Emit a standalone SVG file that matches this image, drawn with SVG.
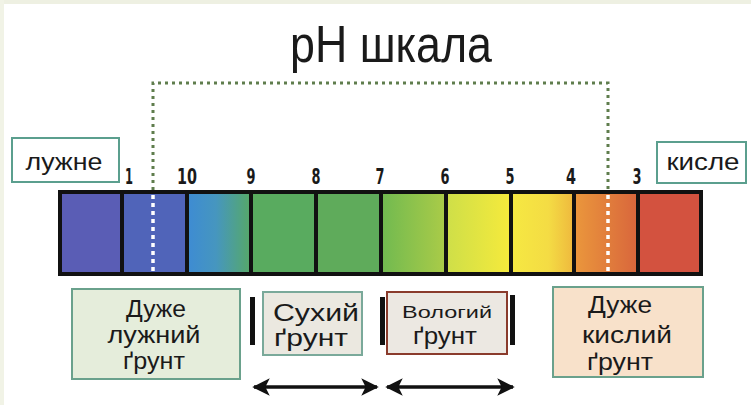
<svg xmlns="http://www.w3.org/2000/svg" width="751" height="405" viewBox="0 0 751 405">
  <defs>
    <linearGradient id="g3" x1="0" x2="1" y1="0" y2="0">
      <stop offset="0" stop-color="#3e8cd2"/>
      <stop offset="0.45" stop-color="#4696bf"/>
      <stop offset="1" stop-color="#55a86c"/>
    </linearGradient>
    <linearGradient id="g6" x1="0" x2="1" y1="0" y2="0">
      <stop offset="0" stop-color="#72ba50"/>
      <stop offset="1" stop-color="#a9cb48"/>
    </linearGradient>
    <linearGradient id="g7" x1="0" x2="1" y1="0" y2="0">
      <stop offset="0" stop-color="#cfdf48"/>
      <stop offset="1" stop-color="#f5ea3c"/>
    </linearGradient>
    <linearGradient id="g8" x1="0" x2="1" y1="0" y2="0">
      <stop offset="0" stop-color="#f6e842"/>
      <stop offset="0.6" stop-color="#f4dc44"/>
      <stop offset="1" stop-color="#efbb3e"/>
    </linearGradient>
    <linearGradient id="g9" x1="0" x2="1" y1="0" y2="0">
      <stop offset="0" stop-color="#ea963c"/>
      <stop offset="1" stop-color="#d9673c"/>
    </linearGradient>
    <marker id="ah" viewBox="0 0 10 10" refX="9" refY="5" markerWidth="5" markerHeight="5" orient="auto-start-reverse" markerUnits="strokeWidth">
      <path d="M0,0 L10,5 L0,10 L2.5,5 Z" fill="#111"/>
    </marker>
    <style>
      .title { font-family: "Liberation Sans", Arial, sans-serif; font-size: 52px; fill: #1a1a1a; }
      .num { font-family: "Liberation Sans Narrow", "DejaVu Sans Condensed", "Liberation Sans", sans-serif; font-weight: bold; font-size: 22px; fill: #1a1a1a; text-anchor: middle; }
      .lbl { font-family: "Liberation Sans", Arial, sans-serif; font-size: 24px; fill: #1a1a1a; text-anchor: middle; }
      .small { font-size: 17px; }
      .tag { fill: #ffffff; stroke: #5b9f8e; stroke-width: 2; }
      .dots { fill: none; stroke: #5f7d4d; stroke-width: 3; stroke-dasharray: 3 4; }
      .wdots { fill: none; stroke: #ffffff; stroke-width: 3.5; stroke-dasharray: 4 4; }
      .bar { fill: #111; }
      .conn { stroke: #111; stroke-width: 3.5; fill: none; }
    </style>
  </defs>

  <!-- page background with a faint frame on the top and left -->
  <rect x="0" y="0" width="751" height="405" fill="#ffffff"/>
  <rect x="0" y="0" width="751" height="4" fill="#eef0e2"/>
  <rect x="0" y="0" width="4" height="405" fill="#f1f3e6"/>

  <text class="title" x="391" y="62" text-anchor="middle" textLength="202" lengthAdjust="spacingAndGlyphs">pH шкала</text>

  <!-- dotted bracket over the scale -->
  <path class="dots" d="M153,190 V83 H608 V190"/>

  <!-- colour scale -->
  <g id="scale">
    <rect x="58" y="190" width="645" height="86" fill="#111"/>
    <rect x="62" y="194" width="58" height="78" fill="#5a5db5"/>
    <rect x="124" y="194" width="61" height="78" fill="#5064b9"/>
    <rect x="189" y="194" width="60" height="78" fill="url(#g3)"/>
    <rect x="253" y="194" width="61" height="78" fill="#59ab5f"/>
    <rect x="318" y="194" width="61" height="78" fill="#5fab5b"/>
    <rect x="383" y="194" width="61" height="78" fill="url(#g6)"/>
    <rect x="448" y="194" width="61" height="78" fill="url(#g7)"/>
    <rect x="513" y="194" width="59" height="78" fill="url(#g8)"/>
    <rect x="576" y="194" width="60" height="78" fill="url(#g9)"/>
    <rect x="640" y="194" width="59" height="78" fill="#d3523f"/>
    <path class="wdots" d="M153,195 V272 M608,195 V272"/>
  </g>

  <!-- scale values -->
  <g id="values">
    <text class="num" x="129" y="184" textLength="8" lengthAdjust="spacingAndGlyphs">1</text>
    <text class="num" x="187" y="184" textLength="20" lengthAdjust="spacingAndGlyphs">10</text>
    <text class="num" x="251" y="184" textLength="9" lengthAdjust="spacingAndGlyphs">9</text>
    <text class="num" x="316" y="184" textLength="9" lengthAdjust="spacingAndGlyphs">8</text>
    <text class="num" x="380" y="184" textLength="9" lengthAdjust="spacingAndGlyphs">7</text>
    <text class="num" x="445" y="184" textLength="9" lengthAdjust="spacingAndGlyphs">6</text>
    <text class="num" x="510" y="184" textLength="9" lengthAdjust="spacingAndGlyphs">5</text>
    <text class="num" x="571" y="184" textLength="10" lengthAdjust="spacingAndGlyphs">4</text>
    <text class="num" x="637" y="184" textLength="9" lengthAdjust="spacingAndGlyphs">3</text>
  </g>

  <g id="alkaline">
    <rect class="tag" x="12" y="138" width="107" height="44"/>
    <text class="lbl" x="64" y="170" textLength="77" lengthAdjust="spacingAndGlyphs">лужне</text>
  </g>

  <g id="acidic">
    <rect class="tag" x="657" y="142" width="89" height="41"/>
    <text class="lbl" x="703" y="170" textLength="73" lengthAdjust="spacingAndGlyphs">кисле</text>
  </g>

  <g id="very-alkaline-soil">
    <rect x="72" y="289" width="168" height="90" fill="#e5eddb" stroke="#6aa18c" stroke-width="2"/>
    <text class="lbl" x="156" y="317" textLength="60" lengthAdjust="spacingAndGlyphs">Дуже</text>
    <text class="lbl" x="154" y="343" textLength="93" lengthAdjust="spacingAndGlyphs">лужний</text>
    <text class="lbl" x="154" y="369" textLength="62" lengthAdjust="spacingAndGlyphs">ґрунт</text>
  </g>

  <g id="dry-soil">
    <rect x="263" y="292" width="99" height="63" fill="#ebe8e0" stroke="#7aa99a" stroke-width="2"/>
    <text class="lbl" x="316" y="321" textLength="86" lengthAdjust="spacingAndGlyphs">Сухий</text>
    <text class="lbl" x="311" y="346" textLength="74" lengthAdjust="spacingAndGlyphs">ґрунт</text>
  </g>

  <g id="wet-soil">
    <rect x="387" y="292" width="120" height="62" fill="#ece8e2" stroke="#8a3b2c" stroke-width="2"/>
    <text class="lbl small" x="447" y="318" textLength="90" lengthAdjust="spacingAndGlyphs">Вологий</text>
    <text class="lbl" x="445" y="344" textLength="64" lengthAdjust="spacingAndGlyphs">ґрунт</text>
  </g>

  <g id="very-acidic-soil">
    <rect x="553" y="287" width="150" height="90" fill="#f8e1ca" stroke="#6aa18c" stroke-width="2"/>
    <text class="lbl" x="620" y="313" textLength="64" lengthAdjust="spacingAndGlyphs">Дуже</text>
    <text class="lbl" x="627" y="343" textLength="90" lengthAdjust="spacingAndGlyphs">кислий</text>
    <text class="lbl" x="620" y="370" textLength="66" lengthAdjust="spacingAndGlyphs">ґрунт</text>
  </g>

  <!-- range markers and arrows -->
  <g id="connectors">
    <rect class="bar" x="250" y="297" width="5" height="48"/>
    <rect class="bar" x="380" y="297" width="5" height="48"/>
    <rect class="bar" x="510" y="295" width="5" height="50"/>
    <path class="conn" d="M254,387 H377" marker-start="url(#ah)" marker-end="url(#ah)"/>
    <path class="conn" d="M387,387 H513" marker-start="url(#ah)" marker-end="url(#ah)"/>
  </g>
</svg>
